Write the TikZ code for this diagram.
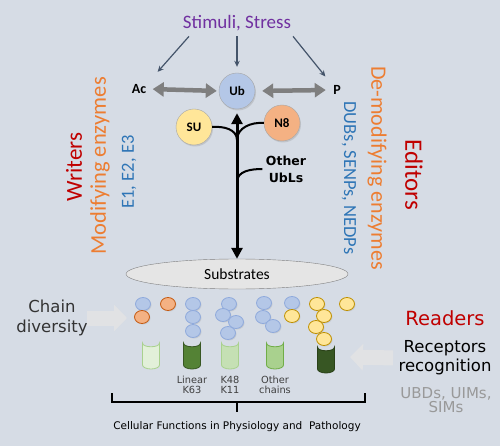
\documentclass[tikz,border=0pt]{standalone}
\usepackage{fontspec}
\setmainfont{Carlito}
\newfontfamily\comicfont{DejaVu Sans}
\usetikzlibrary{arrows.meta,shapes.geometric,shadows}
\newcommand{\fsize}[2]{\fontsize{#1}{#2}\selectfont}
\definecolor{bgblue}{HTML}{D6DCE5}
\definecolor{stimpurple}{HTML}{7030A0}
\definecolor{slate}{HTML}{44546A}
\definecolor{arrgray}{HTML}{7F7F7F}
\definecolor{darkred}{HTML}{C00000}
\definecolor{enzorange}{HTML}{ED7D31}
\definecolor{enzblue}{HTML}{2E75B6}
\definecolor{ubfill}{HTML}{B4C7E7}
\definecolor{ubdraw}{HTML}{8FAADC}
\definecolor{sufill}{HTML}{FFE699}
\definecolor{sudraw}{HTML}{BF9000}
\definecolor{n8fill}{HTML}{F4B183}
\definecolor{n8draw}{HTML}{C55A11}
\definecolor{blockgray}{HTML}{E1E2E4}
\begin{document}
\begin{tikzpicture}[x=1pt,y=-1pt,
    lbl/.style={font=\bfseries\fsize{14}{14}},
    modcirc/.style={circle,draw=gray!70,minimum size=36pt,inner sep=0pt,font=\bfseries\fsize{13}{13},
      drop shadow={opacity=.25,shadow xshift=1pt,shadow yshift=-1.5pt}},
    stimarrow/.style={draw=slate,line width=1.2pt,-{Stealth[length=6pt,width=5.5pt]}},
    grayarrow/.style={draw=arrgray,line width=4.5pt,{Triangle[length=11pt,width=14pt]}-{Triangle[length=11pt,width=14pt]}},
    mainarrow/.style={line width=3pt,{Triangle[length=11pt,width=11pt]}-{Triangle[length=11pt,width=11pt]}},
    branch/.style={line width=2pt},
    blockarrow/.style={draw=blockgray,line width=15pt,-{Triangle[length=13pt,width=26pt]}},
    vtext/.style={inner sep=1pt},
    comic/.style={font=\comicfont\fsize{#1}{#1}},
    ball/.style={fill=#1fill,draw=#1draw,line width=.8pt,
      drop shadow={opacity=.2,shadow xshift=1pt,shadow yshift=-1pt}},
    tube/.style={line width=.8pt,fill=tubefill,draw=tubedraw}]
\useasboundingbox (0,0) rectangle (500,446);
\fill[bgblue] (0,0) rectangle (500,446);

\node[text=stimpurple,font=\fsize{19}{19}] (stim) at (237,23) {Stimuli, Stress};
\node[lbl] (ac) at (139,89) {Ac};
\node[lbl] (p) at (337,90) {P};
\node[modcirc,fill=ubfill] (ub) at (237,91) {Ub};
\node[modcirc,fill=sufill] (su) at (194,127) {SU};
\node[modcirc,fill=n8fill] (n8) at (282,123) {N8};
\node[ellipse,draw=gray,fill=gray!20,minimum width=222pt,minimum height=30pt,font=\fsize{15.5}{15.5}] (sub) at (237,274) {Substrates};
\node[font=\comicfont\bfseries\fsize{12.5}{17},align=center] (ubl) at (286,169) {Other\\UbLs};

\draw[stimarrow,shorten >=12pt] ([xshift=-48pt,yshift=-2pt]stim.south) -- (ac.north east);
\draw[stimarrow,shorten >=6pt] ([yshift=-2pt]stim.south) -- (ub.north);
\draw[stimarrow,shorten >=7pt] ([xshift=56pt,yshift=-2pt]stim.south) -- (p.north west);
\draw[grayarrow,shorten <=3pt,shorten >=2pt] (ac.east) -- (ub.west);
\draw[grayarrow,shorten <=7pt,shorten >=4pt] (ub.east) -- (p.west);
\draw[mainarrow,shorten <=4pt] (ub.south) -- (sub.north);
\coordinate (jn1) at (237,140);
\coordinate (jn2) at (237,182);
\draw[branch] (su.east) to[out=5,in=90] (jn1);
\draw[branch] (n8.west) to[out=175,in=90] (jn1);
\draw[branch] (ubl.west) to[out=180,in=90] (jn2);

\node[vtext,rotate=90,text=darkred,font=\fsize{23}{23}] (writers) at (74,167) {Writers};
\node[vtext,rotate=90,text=enzorange,font=\fsize{22.5}{22.5}] (modenz) at (100,166) {Modifying enzymes};
\node[vtext,rotate=90,text=enzblue,font=\fsize{18.5}{18.5}] (e123) at (129,172) {E1, E2, E3};
\node[vtext,rotate=-90,text=enzorange,font=\fsize{22}{22}] (demod) at (377,168) {De-modifying enzymes};
\node[vtext,rotate=-90,text=enzblue,font=\fsize{18.5}{18.5}] (dubs) at (349,178) {DUBs, SENPs, NEDPs};
\node[vtext,rotate=-90,text=darkred,font=\fsize{25}{25}] (editors) at (414,175) {Editors};

\foreach \x/\t/\c/\d in {151/343/E2F0D9/A9D18E, 192/343/548235/385723, 230/343/C5E0B4/A9D18E,
    275/343/A9D18E/70AD47, 326/347/375623/2A4118}{
  \definecolor{tubefill}{HTML}{\c}
  \definecolor{tubedraw}{HTML}{\d}
  \draw[tube] (\x-8.5,\t) -- (\x-8.5,\t+22)
    arc[start angle=180,end angle=0,x radius=8.5,y radius=4] -- (\x+8.5,\t)
    .. controls (\x+8.5,\t+5) and (\x-8.5,\t+5) .. cycle;
}

\foreach \x/\y/\c in {143/304/ub, 142/317/n8, 168/304/n8,
    193/304/ub, 193/317/ub, 193/331/ub,
    229/304/ub, 223/315/ub, 236/322/ub, 228/333/ub,
    264/303/ub, 263/317/ub, 273/326/ub, 292/303/ub, 292/316/su,
    317/304/su, 324/316/su, 316/327/su, 324/339/su, 347/304/su}
  \draw[ball=\c] (\x,\y) ellipse [x radius=7.5,y radius=6.5];

\node[comic=9.8,text=black!75,align=center] (lin) at (192,385) {Linear\\K63};
\node[comic=9.8,text=black!75,align=center] (k48) at (230,385) {K48\\K11};
\node[comic=9.8,text=black!75,align=center] (oth) at (275,385) {Other\\chains};

\node[font=\comicfont\fsize{16.5}{20},text=black!80,align=center] (chain) at (52,318) {Chain\\diversity};
\node[comic=19.5,text=darkred] (readers) at (445,318) {Readers};
\node[font=\comicfont\fsize{16.5}{19},align=center] (rec) at (445,358) {Receptors\\recognition};
\node[font=\comicfont\fsize{15}{14},text=black!40,align=center] (ubds) at (446,400) {UBDs, UIMs,\\SIMs};
\coordinate (chainend) at (127,318);
\coordinate (recend) at (350,357);
\draw[blockarrow,shorten <=-4pt] (chain.east) -- (chainend);
\draw[blockarrow,shorten <=2pt] (rec.west) -- (recend);

\draw[line width=2.5pt] (112,393) -- (112,402) -- (365,402) -- (365,393);
\draw[line width=2.5pt] (237,402) -- (237,412);
\node[comic=10.5] (cell) at (237,427) {Cellular Functions in Physiology and\ \ Pathology};
\end{tikzpicture}
\end{document}
